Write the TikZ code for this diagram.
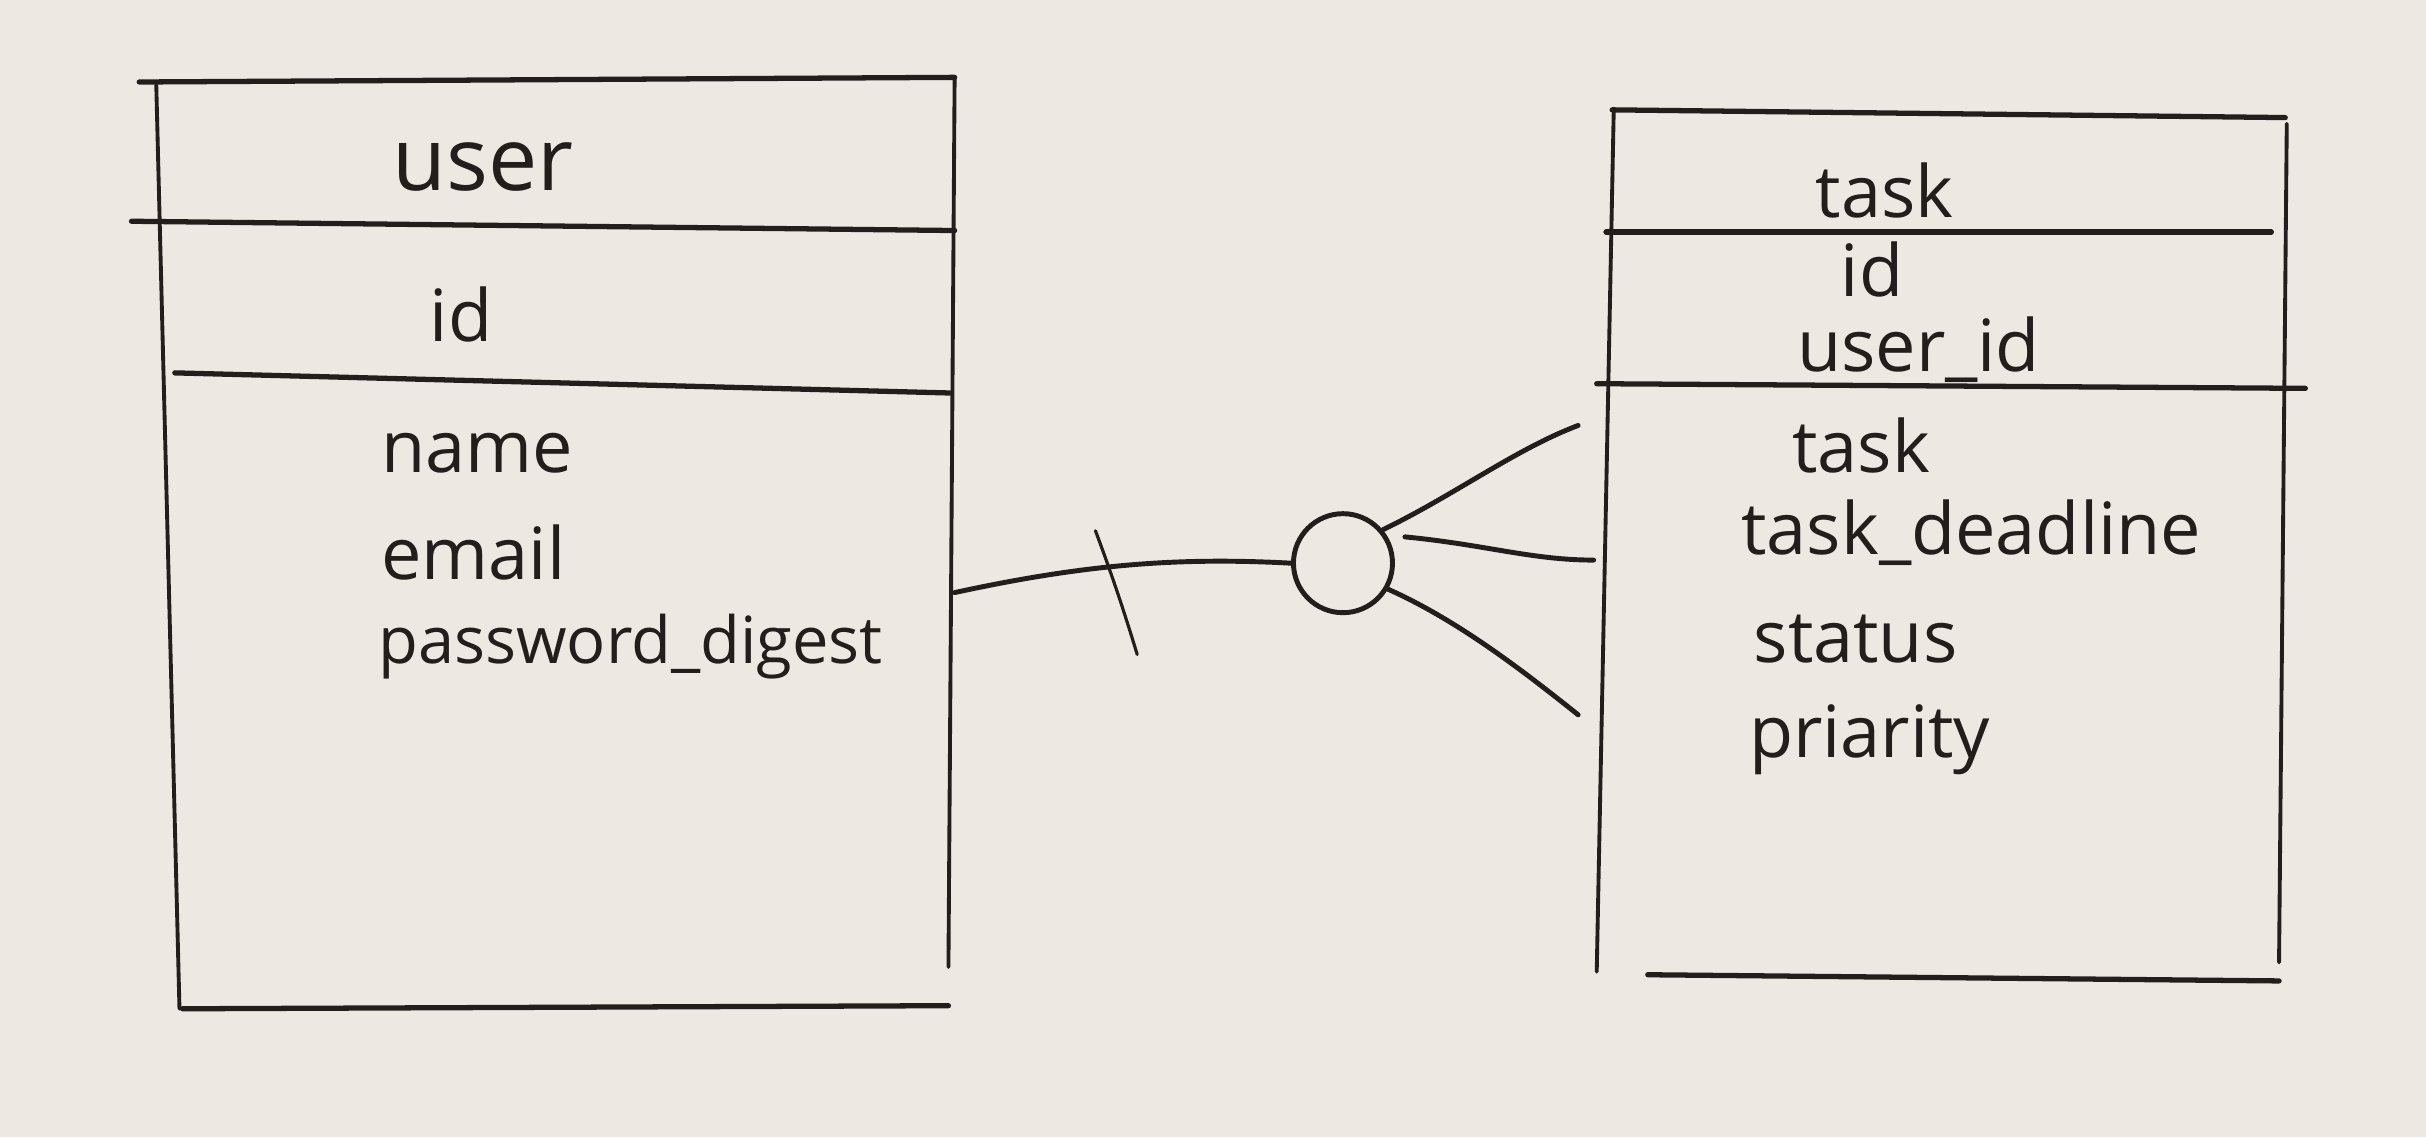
\documentclass[tikz,border=0pt]{standalone}
\usepackage{fontspec}
\setmainfont{Open Sans}
\definecolor{paper}{HTML}{EDE8E2}
\definecolor{ink}{HTML}{231E1C}
\begin{document}
\begin{tikzpicture}[x=0.01547cm,y=-0.01547cm,
  hline/.style={draw=ink,line width=1.5pt,line cap=round},
  vline/.style={draw=ink,line width=1.1pt,line cap=round},
  conn/.style={draw=ink,line width=1.4pt,line cap=round},
  title/.style={text=ink,font=\fontsize{25}{25}\selectfont,inner sep=0pt},
  attr/.style={text=ink,font=\fontsize{20.5}{21}\selectfont,inner sep=0pt,anchor=west}]
\fill[paper] (0,0) rectangle (1568,735);
\useasboundingbox (0,0) rectangle (1568,735);

% ---- user table ----
\draw[hline] (90,53) -- (617,50);
\draw[vline] (101,55) -- (116,652);
\draw[vline] (617,50) -- (613,625);
\draw[hline] (118,652) -- (613,650);
\draw[hline] (85,143) -- (617,149);
\draw[hline] (113,241) -- (614,254);
\node[title] (uname) at (312,108) {user};
\node[attr,anchor=center] (uid) at (298,203) {id};
\node[attr] (uattr1) at (246,293) {name};
\node[attr] (uattr2) at (246,357) {email};
\node[attr,font=\fontsize{18.5}{19}\selectfont] (uattr3) at (244,418) {password\_digest};

% ---- task table ----
\draw[hline] (1042,71) -- (1477,76);
\draw[vline] (1043,71) -- (1032,628);
\draw[vline] (1478,80) -- (1473,622);
\draw[hline] (1065,630) -- (1473,634);
\draw[hline] (1038,150) -- (1468,150);
\draw[hline] (1032,248) -- (1490,251);
\node[attr,anchor=center] (tname) at (1218,123) {task};
\node[attr,anchor=center] (tid) at (1210,174) {id};
\node[attr,anchor=center] (tuid) at (1240,226) {user\_id};
\node[attr] (tattr1) at (1158,288) {task};
\node[attr] (tattr2) at (1125,344) {task\_deadline};
\node[attr] (tattr3) at (1133,413) {status};
\node[attr] (tattr4) at (1130,478) {priarity};

% ---- relationship ----
\coordinate (ustart) at (617,383);
\coordinate (tickA) at (708,343);
\coordinate (tickB) at (735,423);
\node[draw=ink,line width=1.4pt,circle,minimum size=64*0.01547cm,inner sep=0pt] (opt) at (868,364) {};
\coordinate (footA) at (1020,275);
\coordinate (footB) at (1030,362);
\coordinate (footC) at (1020,462);
\draw[conn] (ustart) .. controls (700,365) and (760,360) .. (opt.west);
\draw[conn,line width=0.9pt] (tickA) .. controls (720,375) and (728,400) .. (tickB);
\draw[conn] (opt.40) .. controls (940,320) and (980,290) .. (footA);
\draw[conn] (908,347) .. controls (960,352) and (990,362) .. (footB);
\draw[conn] (opt.-30) .. controls (940,400) and (980,430) .. (footC);
\end{tikzpicture}
\end{document}
